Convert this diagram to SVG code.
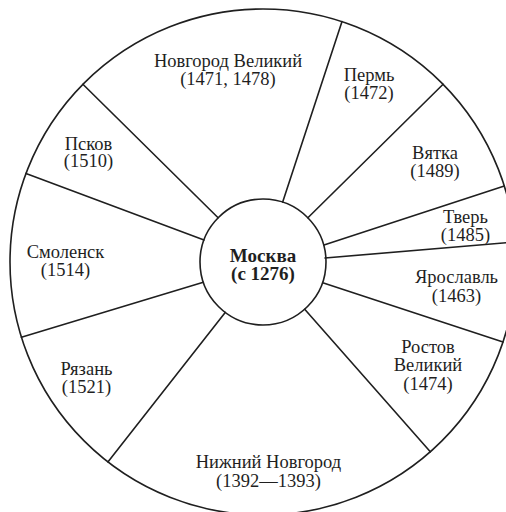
<svg xmlns="http://www.w3.org/2000/svg" width="506" height="512" viewBox="0 0 506 512">
  <style>
    .ln { stroke: #1f1f1f; stroke-width: 1.6; fill: none; stroke-linecap: round; }
    .t { font-family: "Liberation Serif", "Times New Roman", serif; font-size: 18.5px; fill: #1f1f1f; text-anchor: middle; }
    .b { font-weight: bold; font-size: 19px; }
  </style>
  <rect x="0" y="0" width="506" height="512" fill="#ffffff"/>
  <g id="wheel">
    <circle class="ln" cx="263" cy="262" r="253"/>
  </g>
  <g id="connectors">
    <line class="ln" x1="218.1" y1="217.8" x2="82.9" y2="84.3"/>
    <line class="ln" x1="204" y1="239.9" x2="26" y2="173.4"/>
    <line class="ln" x1="282.7" y1="202.1" x2="342" y2="21.6"/>
    <line class="ln" x1="307.9" y1="217.8" x2="443.1" y2="84.3"/>
    <line class="ln" x1="324" y1="245" x2="504.3" y2="186"/>
    <line class="ln" x1="325" y1="258" x2="515" y2="242"/>
    <line class="ln" x1="323.5" y1="283" x2="503" y2="342"/>
    <line class="ln" x1="304.7" y1="309.3" x2="430.3" y2="451.8"/>
    <line class="ln" x1="225.2" y1="312.4" x2="107.9" y2="461.9"/>
    <line class="ln" x1="203.3" y1="282.2" x2="21.4" y2="337.2"/>
  </g>
  <g id="moskva">
    <circle class="ln" cx="263" cy="262" r="63" fill="#ffffff"/>
    <text class="t b" x="263" y="261.5">Москва</text>
    <text class="t b" x="263" y="279.5">(с 1276)</text>
  </g>
  <g id="novgorod">
    <text class="t" x="228" y="66.5">Новгород Великий</text>
    <text class="t" x="228" y="85">(1471, 1478)</text>
  </g>
  <g id="perm">
    <text class="t" x="369" y="80.5">Пермь</text>
    <text class="t" x="369" y="99">(1472)</text>
  </g>
  <g id="vyatka">
    <text class="t" x="435" y="158.5">Вятка</text>
    <text class="t" x="435" y="177">(1489)</text>
  </g>
  <g id="tver">
    <text class="t" x="465.5" y="222.5">Тверь</text>
    <text class="t" x="465.5" y="240.5">(1485)</text>
  </g>
  <g id="yaroslavl">
    <text class="t" x="456.5" y="283">Ярославль</text>
    <text class="t" x="456.5" y="301.5">(1463)</text>
  </g>
  <g id="rostov">
    <text class="t" x="428" y="353">Ростов</text>
    <text class="t" x="428" y="371">Великий</text>
    <text class="t" x="428" y="389.5">(1474)</text>
  </g>
  <g id="nizhny">
    <text class="t" x="268.5" y="467.5">Нижний Новгород</text>
    <text class="t" x="268.5" y="486.5">(1392—1393)</text>
  </g>
  <g id="ryazan">
    <text class="t" x="86.5" y="374.5">Рязань</text>
    <text class="t" x="86.5" y="393">(1521)</text>
  </g>
  <g id="smolensk">
    <text class="t" x="65.5" y="257.5">Смоленск</text>
    <text class="t" x="65.5" y="276">(1514)</text>
  </g>
  <g id="pskov">
    <text class="t" x="88.5" y="149.5">Псков</text>
    <text class="t" x="88.5" y="167">(1510)</text>
  </g>
</svg>
